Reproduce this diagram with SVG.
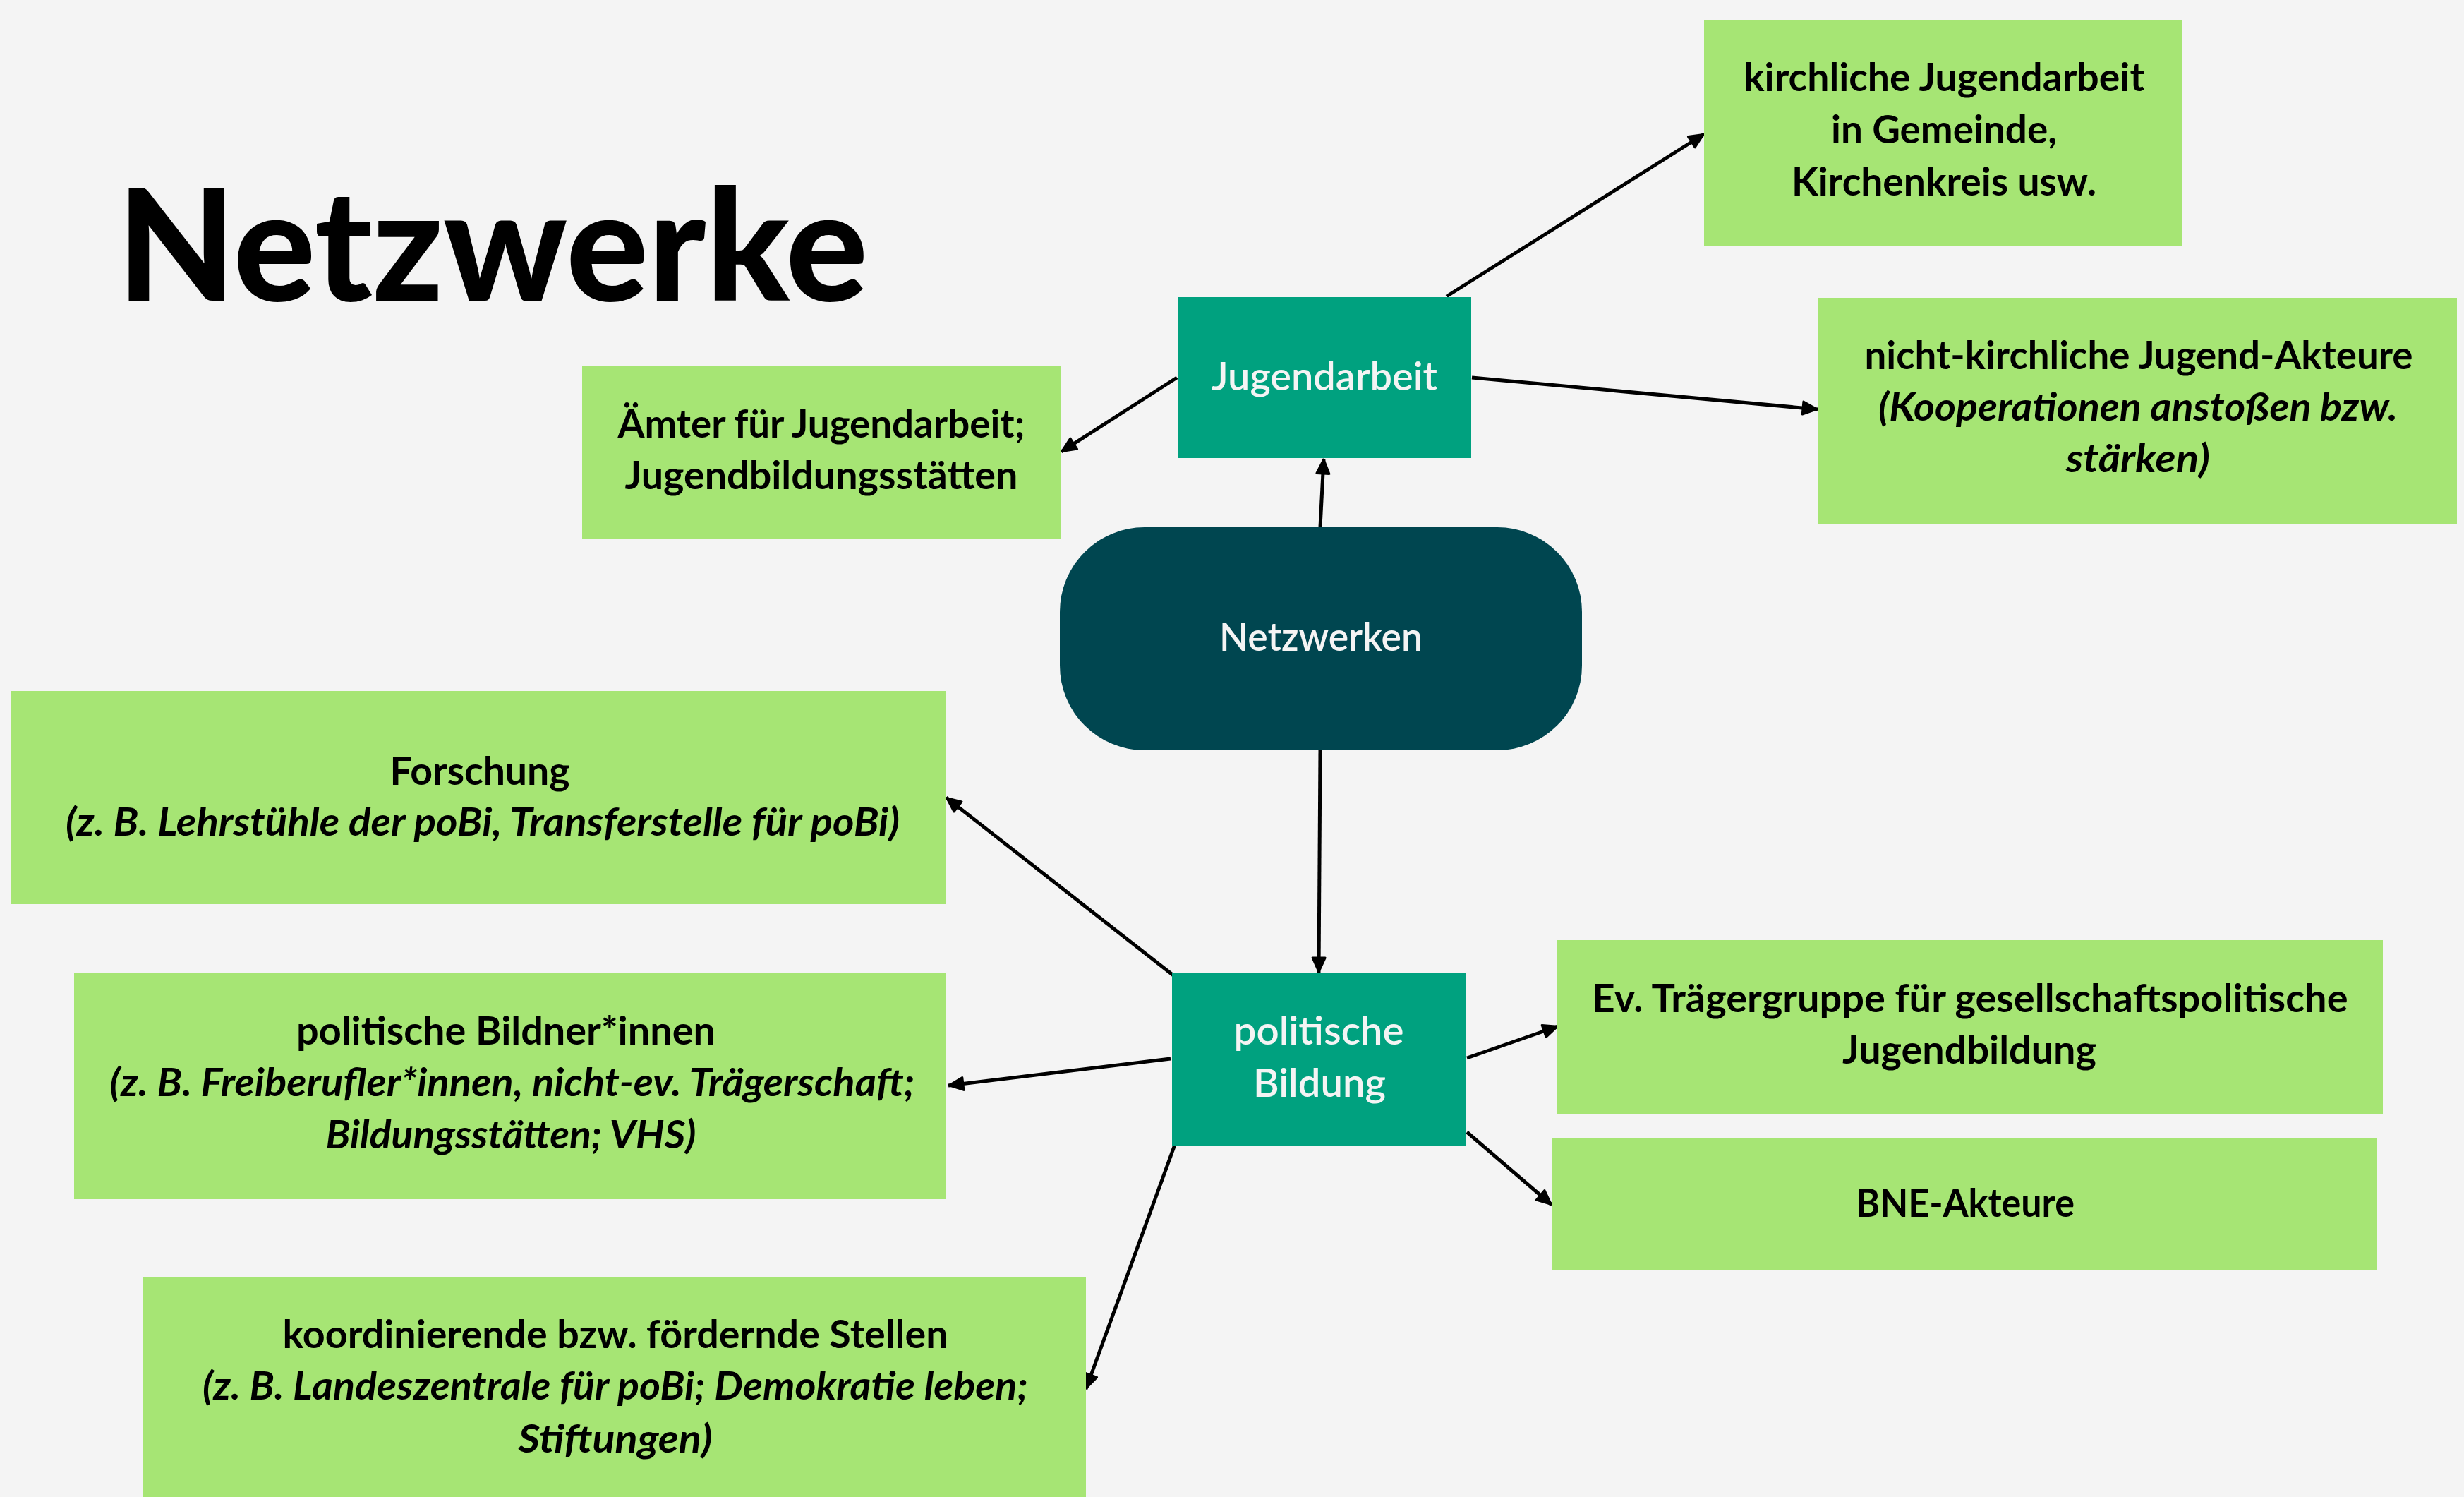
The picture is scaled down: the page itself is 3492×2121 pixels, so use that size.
<svg xmlns="http://www.w3.org/2000/svg" width="3492" height="2121" viewBox="0 0 3492 2121">
<style>
.bg{fill:#f4f4f4}
.g{fill:#a6e574}
.tl{fill:#00a17f}
.dk{fill:#004650}
.t{font-family:Lato,"Liberation Sans",sans-serif;font-size:56px;font-weight:700;fill:#000;text-anchor:middle}
.i{font-style:italic}
.w{fill:#f4f4f4;font-weight:600}
.title{font-family:Lato,"Liberation Sans",sans-serif;font-size:219px;font-weight:900;fill:#000}
.c line{stroke:#000;stroke-width:5;stroke-linecap:butt;marker-end:url(#ah)}
</style>
<defs>
<marker id="ah" viewBox="0 0 26 24" refX="24" refY="12" markerWidth="26" markerHeight="24" orient="auto" markerUnits="userSpaceOnUse">
<path d="M3,3 L23,12 L3,21 Z" fill="#000" stroke="#000" stroke-width="3" stroke-linejoin="round"/>
</marker>
</defs>
<rect class="bg" x="0" y="0" width="3492" height="2121"/>
<text id="title" class="title" x="166" y="426" textLength="1064" lengthAdjust="spacingAndGlyphs">Netzwerke</text>
<g class="c" id="connectors">
<line x1="2050" y1="420" x2="2415" y2="190"/>
<line x1="1668" y1="535" x2="1504" y2="640"/>
<line x1="2086" y1="535" x2="2576" y2="580"/>
<line x1="1871" y1="747" x2="1876" y2="650"/>
<line x1="1871" y1="1063" x2="1869" y2="1378"/>
<line x1="1663" y1="1382" x2="1341" y2="1130"/>
<line x1="1659" y1="1500" x2="1344" y2="1538"/>
<line x1="1666" y1="1619" x2="1539" y2="1968"/>
<line x1="2079" y1="1499" x2="2208" y2="1454"/>
<line x1="2079" y1="1604" x2="2199" y2="1707"/>
</g>
<g id="n-jugendarbeit">
<rect class="tl" x="1669" y="421" width="416" height="228"/>
<text class="t w" x="1877" y="553" textLength="320" lengthAdjust="spacingAndGlyphs">Jugendarbeit</text>
</g>
<g id="n-netzwerken">
<rect class="dk" x="1502" y="747" width="740" height="316" rx="120" ry="120"/>
<text class="t w" x="1872" y="922" textLength="288" lengthAdjust="spacingAndGlyphs">Netzwerken</text>
</g>
<g id="n-politische-bildung">
<rect class="tl" x="1661" y="1378" width="416" height="246"/>
<text class="t w" x="1869" y="1480" textLength="241" lengthAdjust="spacingAndGlyphs">politische</text>
<text class="t w" x="1870" y="1554" textLength="188" lengthAdjust="spacingAndGlyphs">Bildung</text>
</g>
<g id="n-kirchliche">
<rect class="g" x="2415" y="28" width="678" height="320"/>
<text class="t" x="2755" y="129" textLength="568" lengthAdjust="spacingAndGlyphs">kirchliche Jugendarbeit</text>
<text class="t" x="2755" y="203" textLength="320" lengthAdjust="spacingAndGlyphs">in Gemeinde,</text>
<text class="t" x="2755" y="277" textLength="432" lengthAdjust="spacingAndGlyphs">Kirchenkreis usw.</text>
</g>
<g id="n-nicht-kirchliche">
<rect class="g" x="2576" y="422" width="906" height="320"/>
<text class="t" x="3031" y="523" textLength="777" lengthAdjust="spacingAndGlyphs">nicht-kirchliche Jugend-Akteure</text>
<text class="t i" x="3030" y="596" textLength="736" lengthAdjust="spacingAndGlyphs">(Kooperationen anstoßen bzw.</text>
<text class="t i" x="3030" y="669" textLength="204" lengthAdjust="spacingAndGlyphs">stärken)</text>
</g>
<g id="n-aemter">
<rect class="g" x="825" y="518" width="678" height="246"/>
<text class="t" x="1164" y="620" textLength="577" lengthAdjust="spacingAndGlyphs">Ämter für Jugendarbeit;</text>
<text class="t" x="1164" y="693" textLength="557" lengthAdjust="spacingAndGlyphs">Jugendbildungsstätten</text>
</g>
<g id="n-forschung">
<rect class="g" x="16" y="979" width="1325" height="302"/>
<text class="t" x="680" y="1112" textLength="255" lengthAdjust="spacingAndGlyphs">Forschung</text>
<text class="t i" x="684" y="1184" textLength="1182" lengthAdjust="spacingAndGlyphs">(z. B. Lehrstühle der poBi, Transferstelle für poBi)</text>
</g>
<g id="n-bildner">
<rect class="g" x="105" y="1379" width="1236" height="320"/>
<text class="t" x="717" y="1480" textLength="594" lengthAdjust="spacingAndGlyphs">politische Bildner*innen</text>
<text class="t i" x="726" y="1553" textLength="1141" lengthAdjust="spacingAndGlyphs">(z. B. Freiberufler*innen, nicht-ev. Trägerschaft;</text>
<text class="t i" x="724" y="1627" textLength="525" lengthAdjust="spacingAndGlyphs">Bildungsstätten; VHS)</text>
</g>
<g id="n-koordinierende">
<rect class="g" x="203" y="1809" width="1336" height="330"/>
<text class="t" x="872" y="1910" textLength="943" lengthAdjust="spacingAndGlyphs">koordinierende bzw. fördernde Stellen</text>
<text class="t i" x="872" y="1983" textLength="1170" lengthAdjust="spacingAndGlyphs">(z. B. Landeszentrale für poBi; Demokratie leben;</text>
<text class="t i" x="872" y="2058" textLength="275" lengthAdjust="spacingAndGlyphs">Stiftungen)</text>
</g>
<g id="n-ev-traeger">
<rect class="g" x="2207" y="1332" width="1170" height="246"/>
<text class="t" x="2792" y="1434" textLength="1071" lengthAdjust="spacingAndGlyphs">Ev. Trägergruppe für gesellschaftspolitische</text>
<text class="t" x="2791" y="1507" textLength="360" lengthAdjust="spacingAndGlyphs">Jugendbildung</text>
</g>
<g id="n-bne">
<rect class="g" x="2199" y="1612" width="1170" height="188"/>
<text class="t" x="2785" y="1724" textLength="310" lengthAdjust="spacingAndGlyphs">BNE-Akteure</text>
</g>
</svg>
